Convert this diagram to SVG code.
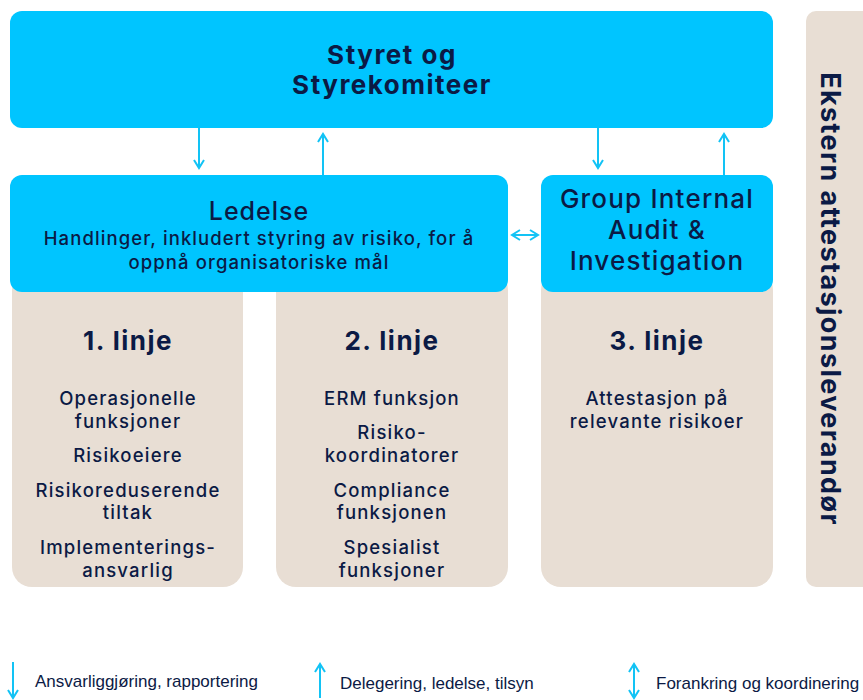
<svg xmlns="http://www.w3.org/2000/svg" width="863" height="700" viewBox="0 0 863 700">
<defs>
<style>
.blue{fill:#00C5FF}
.beige{fill:#E8DED4}
.t{font-family:Inter,"Noto Sans","DejaVu Sans",sans-serif;fill:#0B1A45;text-anchor:middle}
.h{font-size:26px;font-weight:700;letter-spacing:1.5px}
.it{font-size:18.5px;font-weight:500;letter-spacing:1.2px}
.gia{font-size:26px;font-weight:500;letter-spacing:1.2px}
.sub{font-size:18.5px;font-weight:500;letter-spacing:1.1px}
.leg{font-family:"Liberation Sans",Arial,sans-serif;font-size:17px;fill:#0B1A45}
.c{stroke:#12C3F5;stroke-width:2;fill:none}
</style>
<marker id="ah" viewBox="0 0 12 12" refX="10" refY="6" markerWidth="12" markerHeight="12" markerUnits="userSpaceOnUse" orient="auto-start-reverse">
<path d="M2,1 L10,6 L2,11" fill="none" stroke="#12C3F5" stroke-width="2"/>
</marker>
</defs>
<rect width="863" height="700" fill="#fff"/>
<g id="col1"><rect class="beige" x="12" y="270" width="231" height="317" rx="20"/>
<text class="t h" x="128" y="350">1. linje</text>
<text class="t it" x="128" y="405">Operasjonelle</text>
<text class="t it" x="128" y="428">funksjoner</text>
<text class="t it" x="128" y="462">Risikoeiere</text>
<text class="t it" x="128" y="497">Risikoreduserende</text>
<text class="t it" x="128" y="519">tiltak</text>
<text class="t it" x="128" y="554">Implementerings-</text>
<text class="t it" x="128" y="577">ansvarlig</text>
</g>
<g id="col2"><rect class="beige" x="276" y="270" width="232" height="317" rx="20"/>
<text class="t h" x="392" y="350">2. linje</text>
<text class="t it" x="392" y="405">ERM funksjon</text>
<text class="t it" x="392" y="439">Risiko-</text>
<text class="t it" x="392" y="462">koordinatorer</text>
<text class="t it" x="392" y="497">Compliance</text>
<text class="t it" x="392" y="519">funksjonen</text>
<text class="t it" x="392" y="554">Spesialist</text>
<text class="t it" x="392" y="577">funksjoner</text>
</g>
<g id="col3"><rect class="beige" x="541" y="270" width="232" height="317" rx="20"/>
<text class="t h" x="657" y="350">3. linje</text>
<text class="t it" x="657" y="405">Attestasjon på</text>
<text class="t it" x="657" y="428">relevante risikoer</text>
</g>
<g id="ekstern"><rect class="beige" x="806" y="11" width="70" height="576" rx="10"/>
<text class="t" transform="translate(821,299) rotate(90)" font-size="27" font-weight="700" letter-spacing="1.4">Ekstern attestasjonsleverandør</text>
</g>
<g id="styret"><rect class="blue" x="10" y="11" width="763" height="117" rx="12"/>
<text class="t h" x="392" y="64">Styret og</text>
<text class="t h" x="392" y="94">Styrekomiteer</text>
</g>
<g id="ledelse"><rect class="blue" x="10" y="175" width="498" height="117" rx="12"/>
<text class="t" x="259" y="220" font-size="25" font-weight="500" letter-spacing="1">Ledelse</text>
<text class="t sub" x="259" y="245">Handlinger, inkludert styring av risiko, for å</text>
<text class="t sub" x="259" y="269">oppnå organisatoriske mål</text>
</g>
<g id="gia"><rect class="blue" x="541" y="175" width="232" height="117" rx="12"/>
<text class="t gia" x="657" y="208">Group Internal</text>
<text class="t gia" x="657" y="239">Audit &amp;</text>
<text class="t gia" x="657" y="270">Investigation</text>
</g>
<g id="connectors">
<line class="c" x1="199" y1="128" x2="199" y2="168" marker-end="url(#ah)"/>
<line class="c" x1="323" y1="175" x2="323" y2="134" marker-end="url(#ah)"/>
<line class="c" x1="598" y1="128" x2="598" y2="168" marker-end="url(#ah)"/>
<line class="c" x1="724" y1="175" x2="724" y2="134" marker-end="url(#ah)"/>
<line class="c" x1="512" y1="235" x2="538" y2="235" marker-start="url(#ah)" marker-end="url(#ah)"/>
</g>
<g id="legend">
<line class="c" x1="13" y1="662" x2="13" y2="698" marker-end="url(#ah)"/>
<text class="leg" x="35" y="687">Ansvarliggjøring, rapportering</text>
<line class="c" x1="320" y1="698" x2="320" y2="664" marker-end="url(#ah)"/>
<text class="leg" x="340" y="689">Delegering, ledelse, tilsyn</text>
<line class="c" x1="634" y1="664" x2="634" y2="698" marker-start="url(#ah)" marker-end="url(#ah)"/>
<text class="leg" x="656" y="689">Forankring og koordinering</text>
</g>
</svg>
